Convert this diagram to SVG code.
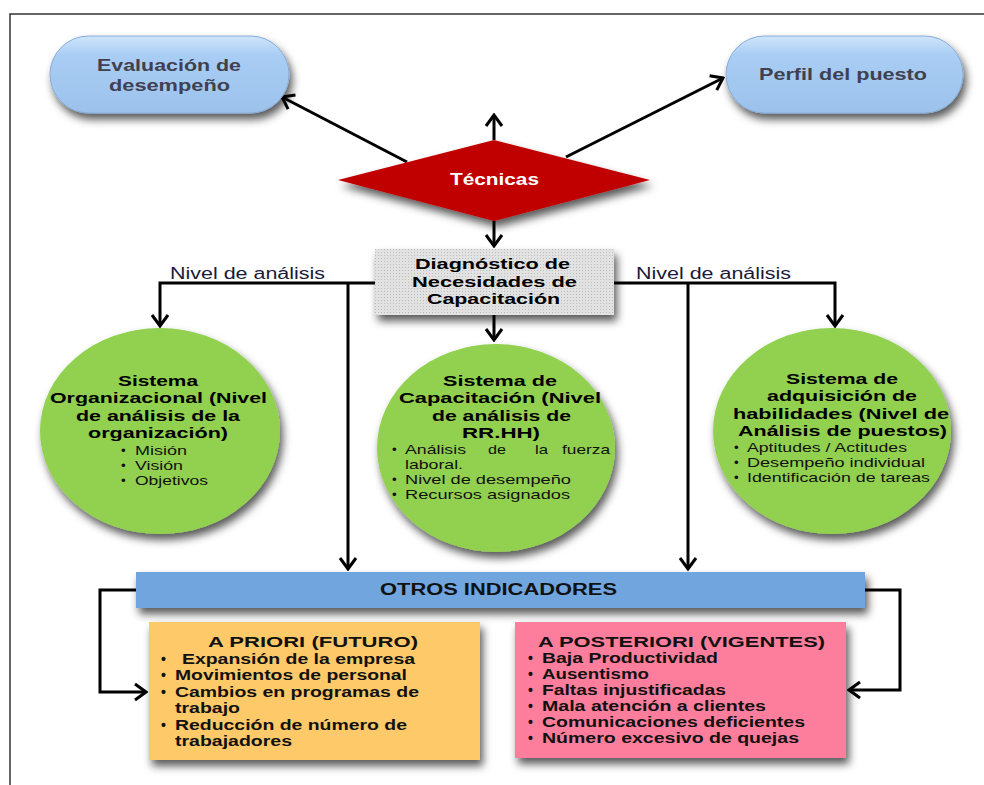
<svg xmlns="http://www.w3.org/2000/svg" width="984" height="785" viewBox="0 0 984 785">
<defs>
<style>
.t{font-family:"Liberation Sans",Arial,sans-serif;}
.b{font-weight:bold;}
.pill{font-size:17px;font-weight:bold;fill:#404050;}
.ct{font-size:15px;font-weight:bold;fill:#000;}
.cb{font-size:13.3px;fill:#111;}
.bx{font-size:14px;font-weight:bold;fill:#111;}
.bt{font-size:15.5px;font-weight:bold;fill:#111;}
.ln{fill:none;stroke:#000;stroke-width:3;}
.lbl{font-size:16px;fill:#1a1a3a;}
</style>
<marker id="ah" viewBox="-14 -10 16 20" refX="0" refY="0" markerWidth="16" markerHeight="20" markerUnits="userSpaceOnUse" orient="auto">
<path d="M-11,-8 L0,0 L-11,8" fill="none" stroke="#000" stroke-width="3"/>
</marker>
<filter id="sh" x="-20%" y="-20%" width="150%" height="160%">
<feDropShadow dx="3" dy="6" stdDeviation="4" flood-color="#000" flood-opacity="0.65"/>
</filter>
<linearGradient id="pg" x1="0" y1="0" x2="0" y2="1">
<stop offset="0" stop-color="#cfe5fb"/>
<stop offset="0.25" stop-color="#a9cdf4"/>
<stop offset="1" stop-color="#9cc2ec"/>
</linearGradient>
<pattern id="dots" width="3" height="3" patternUnits="userSpaceOnUse">
<rect width="3" height="3" fill="#e2e2e2"/>
<rect width="1" height="1" fill="#bdbdbd"/>
</pattern>
</defs>
<rect x="0" y="0" width="984" height="785" fill="#fff"/>
<path d="M10,785 V14 H984" fill="none" stroke="#333" stroke-width="1.5"/>

<g id="connectors">
<path class="ln" d="M494,140 V115" marker-end="url(#ah)"/>
<path class="ln" d="M407,162 L282,97" marker-end="url(#ah)"/>
<path class="ln" d="M566,157 L723,78" marker-end="url(#ah)"/>
<path class="ln" d="M494,221 V246" marker-end="url(#ah)"/>
<path class="ln" d="M375,283 H160 V326" marker-end="url(#ah)"/>
<path class="ln" d="M348,283 V569" marker-end="url(#ah)"/>
<path class="ln" d="M614,283 H835 V326" marker-end="url(#ah)"/>
<path class="ln" d="M688,283 V569" marker-end="url(#ah)"/>
<path class="ln" d="M494,315 V340" marker-end="url(#ah)"/>
<path class="ln" d="M136,590 H100 V692 H146" marker-end="url(#ah)"/>
<path class="ln" d="M865,590 H900 V690 H849" marker-end="url(#ah)"/>
<text class="t lbl" x="170" y="279" textLength="155" lengthAdjust="spacingAndGlyphs">Nivel de análisis</text>
<text class="t lbl" x="636" y="279" textLength="155" lengthAdjust="spacingAndGlyphs">Nivel de análisis</text>
</g>

<g id="evaluacion">
<rect x="50" y="36" width="239" height="77" rx="38.5" fill="url(#pg)" stroke="#86acd8" stroke-width="1" filter="url(#sh)"/>
<text class="t pill" x="97" y="71" textLength="144" lengthAdjust="spacingAndGlyphs">Evaluación de</text>
<text class="t pill" x="109" y="91" textLength="121" lengthAdjust="spacingAndGlyphs">desempeño</text>
</g>

<g id="perfil">
<rect x="726" y="36" width="237" height="77" rx="38.5" fill="url(#pg)" stroke="#86acd8" stroke-width="1" filter="url(#sh)"/>
<text class="t pill" x="759" y="80" textLength="168" lengthAdjust="spacingAndGlyphs">Perfil del puesto</text>
</g>

<g id="tecnicas">
<polygon points="338,180 494,140 650,180 494,221" fill="#c00000" filter="url(#sh)"/>
<text class="t b" x="450" y="185" font-size="17" fill="#fff" textLength="89" lengthAdjust="spacingAndGlyphs">Técnicas</text>
</g>

<g id="diagnostico">
<rect x="375" y="249" width="239" height="66" fill="url(#dots)" filter="url(#sh)"/>
<text class="t ct" x="415" y="269" textLength="155" lengthAdjust="spacingAndGlyphs">Diagnóstico de</text>
<text class="t ct" x="412" y="287" textLength="165" lengthAdjust="spacingAndGlyphs">Necesidades de</text>
<text class="t ct" x="427" y="304" textLength="133" lengthAdjust="spacingAndGlyphs">Capacitación</text>
</g>

<g id="sistema-organizacional">
<ellipse cx="160" cy="431" rx="120" ry="103" fill="#92d050" filter="url(#sh)"/>
<text class="t ct" x="118" y="386" textLength="80" lengthAdjust="spacingAndGlyphs">Sistema</text>
<text class="t ct" x="50" y="403" textLength="217" lengthAdjust="spacingAndGlyphs">Organizacional (Nivel</text>
<text class="t ct" x="76" y="421" textLength="164" lengthAdjust="spacingAndGlyphs">de análisis de la</text>
<text class="t ct" x="88" y="438" textLength="140" lengthAdjust="spacingAndGlyphs">organización)</text>
<text class="t cb" x="121" y="455">•</text>
<text class="t cb" x="135" y="455" textLength="52" lengthAdjust="spacingAndGlyphs">Misión</text>
<text class="t cb" x="121" y="470">•</text>
<text class="t cb" x="135" y="470" textLength="48" lengthAdjust="spacingAndGlyphs">Visión</text>
<text class="t cb" x="121" y="485">•</text>
<text class="t cb" x="135" y="485" textLength="73" lengthAdjust="spacingAndGlyphs">Objetivos</text>
</g>

<g id="sistema-capacitacion">
<ellipse cx="496" cy="448" rx="119" ry="104" fill="#92d050" filter="url(#sh)"/>
<text class="t ct" x="443" y="386" textLength="114" lengthAdjust="spacingAndGlyphs">Sistema de</text>
<text class="t ct" x="399" y="403" textLength="202" lengthAdjust="spacingAndGlyphs">Capacitación (Nivel</text>
<text class="t ct" x="432" y="421" textLength="139" lengthAdjust="spacingAndGlyphs">de análisis de</text>
<text class="t ct" x="462" y="438" textLength="78" lengthAdjust="spacingAndGlyphs">RR.HH)</text>
<text class="t cb" x="392" y="454">•</text>
<text class="t cb" x="405" y="454" textLength="61" lengthAdjust="spacingAndGlyphs">Análisis</text>
<text class="t cb" x="488" y="454" textLength="18" lengthAdjust="spacingAndGlyphs">de</text>
<text class="t cb" x="535" y="454" textLength="13" lengthAdjust="spacingAndGlyphs">la</text>
<text class="t cb" x="562" y="454" textLength="48" lengthAdjust="spacingAndGlyphs">fuerza</text>
<text class="t cb" x="405" y="469" textLength="58" lengthAdjust="spacingAndGlyphs">laboral.</text>
<text class="t cb" x="392" y="484">•</text>
<text class="t cb" x="405" y="484" textLength="166" lengthAdjust="spacingAndGlyphs">Nivel de desempeño</text>
<text class="t cb" x="392" y="499">•</text>
<text class="t cb" x="405" y="499" textLength="165" lengthAdjust="spacingAndGlyphs">Recursos asignados</text>
</g>

<g id="sistema-adquisicion">
<ellipse cx="832" cy="431" rx="119" ry="103" fill="#92d050" filter="url(#sh)"/>
<text class="t ct" x="786" y="384" textLength="112" lengthAdjust="spacingAndGlyphs">Sistema de</text>
<text class="t ct" x="767" y="401" textLength="150" lengthAdjust="spacingAndGlyphs">adquisición de</text>
<text class="t ct" x="733" y="419" textLength="216" lengthAdjust="spacingAndGlyphs">habilidades (Nivel de</text>
<text class="t ct" x="738" y="436" textLength="209" lengthAdjust="spacingAndGlyphs">Análisis de puestos)</text>
<text class="t cb" x="734" y="452">•</text>
<text class="t cb" x="747" y="452" textLength="160" lengthAdjust="spacingAndGlyphs">Aptitudes / Actitudes</text>
<text class="t cb" x="734" y="467">•</text>
<text class="t cb" x="747" y="467" textLength="178" lengthAdjust="spacingAndGlyphs">Desempeño individual</text>
<text class="t cb" x="734" y="482">•</text>
<text class="t cb" x="747" y="482" textLength="183" lengthAdjust="spacingAndGlyphs">Identificación de tareas</text>
</g>

<g id="otros-indicadores">
<rect x="136" y="572" width="729" height="36" fill="#6fa5de" filter="url(#sh)"/>
<text class="t b" x="380" y="595" font-size="16" fill="#111" textLength="237" lengthAdjust="spacingAndGlyphs">OTROS INDICADORES</text>
</g>

<g id="a-priori">
<rect x="149" y="622" width="331" height="138" fill="#fec967" filter="url(#sh)"/>
<text class="t bt" x="208" y="647" textLength="210" lengthAdjust="spacingAndGlyphs">A PRIORI (FUTURO)</text>
<text class="t bx" x="161" y="664">•</text>
<text class="t bx" x="182" y="664" textLength="233" lengthAdjust="spacingAndGlyphs">Expansión de la empresa</text>
<text class="t bx" x="161" y="680">•</text>
<text class="t bx" x="175" y="680" textLength="232" lengthAdjust="spacingAndGlyphs">Movimientos de personal</text>
<text class="t bx" x="161" y="697">•</text>
<text class="t bx" x="175" y="697" textLength="244" lengthAdjust="spacingAndGlyphs">Cambios en programas de</text>
<text class="t bx" x="175" y="713" textLength="65" lengthAdjust="spacingAndGlyphs">trabajo</text>
<text class="t bx" x="161" y="730">•</text>
<text class="t bx" x="175" y="730" textLength="232" lengthAdjust="spacingAndGlyphs">Reducción de número de</text>
<text class="t bx" x="175" y="746" textLength="117" lengthAdjust="spacingAndGlyphs">trabajadores</text>
</g>

<g id="a-posteriori">
<rect x="515" y="622" width="331" height="136" fill="#fd7e9c" filter="url(#sh)"/>
<text class="t bt" x="538" y="647" textLength="287" lengthAdjust="spacingAndGlyphs">A POSTERIORI (VIGENTES)</text>
<text class="t bx" x="528" y="663">•</text>
<text class="t bx" x="542" y="663" textLength="176" lengthAdjust="spacingAndGlyphs">Baja Productividad</text>
<text class="t bx" x="528" y="679">•</text>
<text class="t bx" x="542" y="679" textLength="107" lengthAdjust="spacingAndGlyphs">Ausentismo</text>
<text class="t bx" x="528" y="695">•</text>
<text class="t bx" x="542" y="695" textLength="184" lengthAdjust="spacingAndGlyphs">Faltas injustificadas</text>
<text class="t bx" x="528" y="711">•</text>
<text class="t bx" x="542" y="711" textLength="224" lengthAdjust="spacingAndGlyphs">Mala atención a clientes</text>
<text class="t bx" x="528" y="727">•</text>
<text class="t bx" x="542" y="727" textLength="263" lengthAdjust="spacingAndGlyphs">Comunicaciones deficientes</text>
<text class="t bx" x="528" y="743">•</text>
<text class="t bx" x="542" y="743" textLength="257" lengthAdjust="spacingAndGlyphs">Número excesivo de quejas</text>
</g>
</svg>
